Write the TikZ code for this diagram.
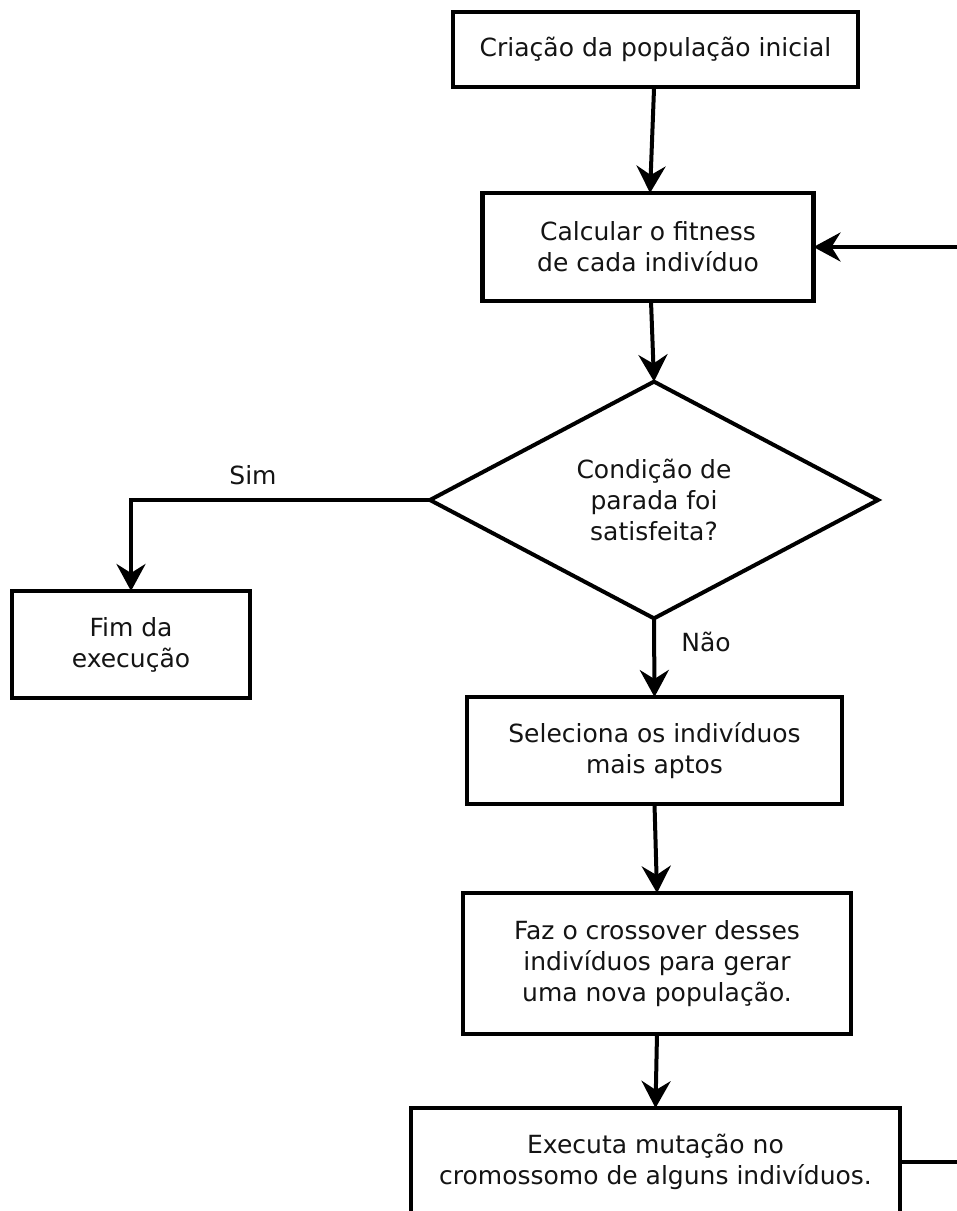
\documentclass[tikz,border=0pt]{standalone}
\usepackage{fontspec}
\setmainfont{DejaVu Sans}
\usetikzlibrary{shapes.geometric,arrows.meta}
\definecolor{txt}{HTML}{141414}
\begin{document}
\begin{tikzpicture}[x=1pt,y=-1pt,
  lbl/.style={font=\fontsize{25}{31}\selectfont, text=txt, align=center, inner sep=0pt},
  box/.style={lbl, draw=black, line width=4.5pt, rectangle, outer sep=0pt},
  dec/.style={lbl, draw=black, line width=4pt, diamond, outer sep=0pt},
  conn/.style={draw=black, line width=4pt, -{Stealth[length=27pt,width=29pt,inset=9pt]}},
  plain/.style={draw=black, line width=4pt}]
\useasboundingbox (0,0) rectangle (957,1211);
\fill[white] (0,0) rectangle (957,1211);

\node[box, minimum width=405pt, minimum height=75pt] (b1) at (655.5,49.5) {Criação da população inicial};
\node[box, minimum width=331pt, minimum height=108pt] (b2) at (648,247) {Calcular o fitness\\de cada indivíduo};
\node[dec, minimum width=448pt, minimum height=224pt] (d) at (654,500) {Condição de\\parada foi\\satisfeita?};
\node[box, minimum width=238pt, minimum height=107pt] (fim) at (131,644.5) {Fim da\\execução};
\node[box, minimum width=375pt, minimum height=107pt] (sel) at (654.5,750.5) {Seleciona os indivíduos\\mais aptos};
\node[box, minimum width=388pt, minimum height=141pt] (faz) at (657,963.5) {Faz o crossover desses\\indivíduos para gerar\\uma nova população.};
\node[box, minimum width=489pt, minimum height=108pt] (mut) at (655.5,1162) {Executa mutação no\\cromossomo de alguns indivíduos.};

\node[lbl] (sim) at (253,475) {Sim};
\node[lbl] (nao) at (706,642) {Não};

\coordinate (r1) at (957,247);
\coordinate (r2) at (957,1162);

\draw[conn] (b1) -- (b2);
\draw[conn] ([xshift=3pt]b2.south) -- (d.north);
\draw[conn] (d.west) -| (fim.north);
\draw[conn] (d.south) -- (sel.north);
\draw[conn] (sel.south) -- (faz.north);
\draw[conn] (faz.south) -- (mut.north);
\draw[conn] (r1) -- (b2.east);
\draw[plain] (mut.east) -- (r2);
\end{tikzpicture}
\end{document}
